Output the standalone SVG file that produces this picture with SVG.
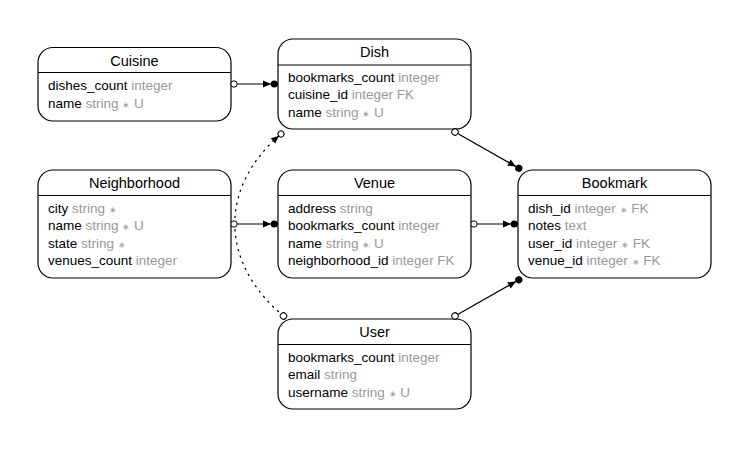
<svg xmlns="http://www.w3.org/2000/svg" width="749" height="449" viewBox="0 0 749 449">
<style>
.box{fill:#fff;stroke:#000;stroke-width:1.2}
.hd{stroke:#000;stroke-width:1.2}
.title{font-family:"Liberation Sans",Arial,sans-serif;font-size:14.5px;fill:#000;text-anchor:middle}
.row{font-family:"Liberation Sans",Arial,sans-serif;font-size:13.5px;fill:#000}
.t{fill:#999}
.st{font-size:9px}
.edge{fill:none;stroke:#000;stroke-width:1.2}
.dotted{fill:none;stroke:#000;stroke-width:1.3;stroke-dasharray:1.2 5.5;stroke-linecap:round}
</style>
<defs>
<marker id="odot" markerUnits="userSpaceOnUse" viewBox="-4 -4 8 8" refX="0" refY="0" markerWidth="8" markerHeight="8" orient="auto" overflow="visible">
<circle cx="0" cy="0" r="3.2" fill="#fff" stroke="#000" stroke-width="1"/>
</marker>
<marker id="normdot" markerUnits="userSpaceOnUse" viewBox="0 -4 15 8" refX="15" refY="0" markerWidth="15" markerHeight="8" orient="auto" overflow="visible">
<path d="M0,-3.5 L8,0 L0,3.5 Z" fill="#000"/>
<circle cx="11.3" cy="0" r="3.6" fill="#000"/>
</marker>
<marker id="normodot" markerUnits="userSpaceOnUse" viewBox="0 -4 14 8" refX="10.5" refY="0" markerWidth="14" markerHeight="8" orient="auto" overflow="visible">
<path d="M0,-3.5 L7.5,0 L0,3.5 Z" fill="#000"/>
<circle cx="10.5" cy="0" r="3" fill="#fff" stroke="#000" stroke-width="1"/>
</marker>
</defs>
<rect width="749" height="449" fill="#fff"/>

<g id="cuisine">
<rect class="box" x="38" y="47.5" width="193" height="73.5" rx="15"/>
<line class="hd" x1="38" y1="72.5" x2="231" y2="72.5"/>
<text class="title" x="134.5" y="65.5">Cuisine</text>
<text class="row" x="48" y="90">dishes_count <tspan class="t">integer</tspan></text>
<text class="row" x="48" y="107.5">name <tspan class="t">string <tspan class="st">∗</tspan> U</tspan></text>
</g>

<g id="dish">
<rect class="box" x="278" y="39" width="193" height="90" rx="15"/>
<line class="hd" x1="278" y1="65" x2="471" y2="65"/>
<text class="title" x="374.5" y="57">Dish</text>
<text class="row" x="288" y="81.5">bookmarks_count <tspan class="t">integer</tspan></text>
<text class="row" x="288" y="99">cuisine_id <tspan class="t">integer FK</tspan></text>
<text class="row" x="288" y="116.5">name <tspan class="t">string <tspan class="st">∗</tspan> U</tspan></text>
</g>

<g id="neighborhood">
<rect class="box" x="38" y="170" width="193" height="108" rx="15"/>
<line class="hd" x1="38" y1="195.5" x2="231" y2="195.5"/>
<text class="title" x="134.5" y="188">Neighborhood</text>
<text class="row" x="48" y="212.5">city <tspan class="t">string <tspan class="st">∗</tspan></tspan></text>
<text class="row" x="48" y="230">name <tspan class="t">string <tspan class="st">∗</tspan> U</tspan></text>
<text class="row" x="48" y="247.5">state <tspan class="t">string <tspan class="st">∗</tspan></tspan></text>
<text class="row" x="48" y="265">venues_count <tspan class="t">integer</tspan></text>
</g>

<g id="venue">
<rect class="box" x="278" y="170" width="193" height="108" rx="15"/>
<line class="hd" x1="278" y1="195.5" x2="471" y2="195.5"/>
<text class="title" x="374.5" y="188">Venue</text>
<text class="row" x="288" y="212.5">address <tspan class="t">string</tspan></text>
<text class="row" x="288" y="230">bookmarks_count <tspan class="t">integer</tspan></text>
<text class="row" x="288" y="247.5">name <tspan class="t">string <tspan class="st">∗</tspan> U</tspan></text>
<text class="row" x="288" y="265">neighborhood_id <tspan class="t">integer FK</tspan></text>
</g>

<g id="bookmark">
<rect class="box" x="518" y="170" width="193" height="108" rx="15"/>
<line class="hd" x1="518" y1="195.5" x2="711" y2="195.5"/>
<text class="title" x="614.5" y="188">Bookmark</text>
<text class="row" x="528" y="212.5">dish_id <tspan class="t">integer <tspan class="st">∗</tspan> FK</tspan></text>
<text class="row" x="528" y="230">notes <tspan class="t">text</tspan></text>
<text class="row" x="528" y="247.5">user_id <tspan class="t">integer <tspan class="st">∗</tspan> FK</tspan></text>
<text class="row" x="528" y="265">venue_id <tspan class="t">integer <tspan class="st">∗</tspan> FK</tspan></text>
</g>

<g id="user">
<rect class="box" x="278" y="319" width="193" height="90" rx="15"/>
<line class="hd" x1="278" y1="344.5" x2="471" y2="344.5"/>
<text class="title" x="374.5" y="337">User</text>
<text class="row" x="288" y="361.5">bookmarks_count <tspan class="t">integer</tspan></text>
<text class="row" x="288" y="379">email <tspan class="t">string</tspan></text>
<text class="row" x="288" y="396.5">username <tspan class="t">string <tspan class="st">∗</tspan> U</tspan></text>
</g>

<g id="connectors">
<path class="dotted" d="M283.5,316 C219,262 219,187 281,134" marker-start="url(#odot)" marker-end="url(#normodot)"/>
<line class="edge" x1="234" y1="84" x2="278" y2="84" marker-start="url(#odot)" marker-end="url(#normdot)"/>
<line class="edge" x1="234" y1="224" x2="278" y2="224" marker-start="url(#odot)" marker-end="url(#normdot)"/>
<line class="edge" x1="474" y1="224" x2="518" y2="224" marker-start="url(#odot)" marker-end="url(#normdot)"/>
<line class="edge" x1="455" y1="132" x2="522" y2="170" marker-start="url(#odot)" marker-end="url(#normdot)"/>
<line class="edge" x1="455" y1="316" x2="522" y2="278" marker-start="url(#odot)" marker-end="url(#normdot)"/>
</g>
</svg>
